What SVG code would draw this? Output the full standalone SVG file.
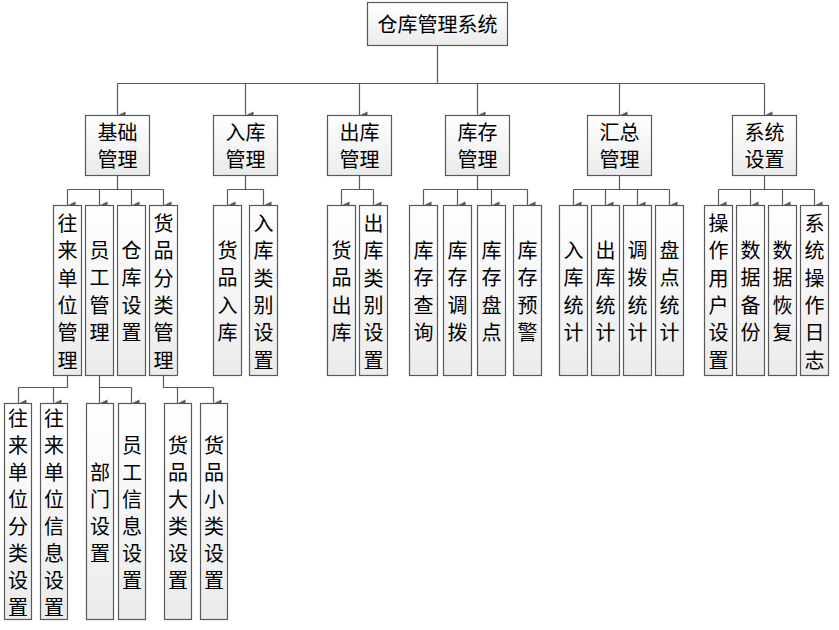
<svg xmlns="http://www.w3.org/2000/svg" width="839" height="630" viewBox="0 0 839 630">
<defs>
<linearGradient id="g" x1="0" y1="0" x2="0" y2="1">
<stop offset="0" stop-color="#ffffff"/>
<stop offset="1" stop-color="#ebebeb"/>
</linearGradient>
<marker id="arr" markerUnits="userSpaceOnUse" markerWidth="10" markerHeight="10" viewBox="0 0 10 10" refX="5" refY="9" orient="auto-start-reverse">
<path d="M1,1 L9,1 L5,9 Z" fill="#595959"/>
</marker>
<style>
rect{fill:url(#g);stroke:#595959;stroke-width:1.2}
text{font-family:"Noto Sans CJK SC","Microsoft YaHei",sans-serif;font-size:20px;fill:#000;text-anchor:middle;dominant-baseline:central}
#connectors path{fill:none;stroke:#595959;stroke-width:1.2}
.a{marker-end:url(#arr)}
</style>
</defs>
<rect x="0" y="0" width="839" height="630" style="fill:#fff;stroke:none"/>
<g id="connectors">
<path d="M437.5,45.5V83.5M117.5,83.5H764.5"/>
<path class="a" d="M117.5,83.5V115.5"/>
<path class="a" d="M245.5,83.5V115.5"/>
<path class="a" d="M359.5,83.5V115.5"/>
<path class="a" d="M477.5,83.5V115.5"/>
<path class="a" d="M619.5,83.5V115.5"/>
<path class="a" d="M764.5,83.5V115.5"/>
<path d="M117.5,175.5V189.5M67.5,189.5H163.5"/>
<path class="a" d="M67.5,189.5V205.5"/><path class="a" d="M99.5,189.5V205.5"/><path class="a" d="M131.5,189.5V205.5"/><path class="a" d="M163.5,189.5V205.5"/>
<path d="M245.5,175.5V189.5M227.5,189.5H263.5"/>
<path class="a" d="M227.5,189.5V205.5"/><path class="a" d="M263.5,189.5V205.5"/>
<path d="M359.5,175.5V189.5M341.5,189.5H373.5"/>
<path class="a" d="M341.5,189.5V205.5"/><path class="a" d="M373.5,189.5V205.5"/>
<path d="M477.5,175.5V189.5M423.5,189.5H527.5"/>
<path class="a" d="M423.5,189.5V205.5"/><path class="a" d="M457.5,189.5V205.5"/><path class="a" d="M491.5,189.5V205.5"/><path class="a" d="M527.5,189.5V205.5"/>
<path d="M619.5,175.5V189.5M573.5,189.5H669.5"/>
<path class="a" d="M573.5,189.5V205.5"/><path class="a" d="M605.5,189.5V205.5"/><path class="a" d="M637.5,189.5V205.5"/><path class="a" d="M669.5,189.5V205.5"/>
<path d="M764.5,175.5V189.5M718.5,189.5H814.5"/>
<path class="a" d="M718.5,189.5V205.5"/><path class="a" d="M750.5,189.5V205.5"/><path class="a" d="M782.5,189.5V205.5"/><path class="a" d="M814.5,189.5V205.5"/>
<path d="M67.5,375.5V387.5H18.5"/>
<path class="a" d="M18.5,387.5V403.5"/><path class="a" d="M53.5,387.5V403.5"/>
<path d="M99.5,375.5V387.5H131.5"/>
<path class="a" d="M99.5,387.5V403.5"/><path class="a" d="M131.5,387.5V403.5"/>
<path d="M163.5,375.5V387.5H213.5"/>
<path class="a" d="M177.5,387.5V403.5"/><path class="a" d="M213.5,387.5V403.5"/>
</g>
<g id="root"><rect x="367.5" y="2.5" width="140" height="43"/><text x="437.5" y="23">仓库管理系统</text></g>
<g id="n-jichu"><rect x="85.5" y="115.5" width="64" height="60"/><text x="117.5" y="131">基础</text><text x="117.5" y="158">管理</text></g>
<g id="n-ruku"><rect x="213.5" y="115.5" width="64" height="60"/><text x="245.5" y="131">入库</text><text x="245.5" y="158">管理</text></g>
<g id="n-chuku"><rect x="327.5" y="115.5" width="64" height="60"/><text x="359.5" y="131">出库</text><text x="359.5" y="158">管理</text></g>
<g id="n-kucun"><rect x="445.5" y="115.5" width="64" height="60"/><text x="477.5" y="131">库存</text><text x="477.5" y="158">管理</text></g>
<g id="n-huizong"><rect x="587.5" y="115.5" width="64" height="60"/><text x="619.5" y="131">汇总</text><text x="619.5" y="158">管理</text></g>
<g id="n-xitong"><rect x="732.5" y="115.5" width="64" height="60"/><text x="764.5" y="131">系统</text><text x="764.5" y="158">设置</text></g>

<g id="n-wanglai"><rect x="53.5" y="205.5" width="28" height="170"/><text><tspan x="67.5" y="222">往</tspan><tspan x="67.5" y="249.3">来</tspan><tspan x="67.5" y="276.6">单</tspan><tspan x="67.5" y="303.9">位</tspan><tspan x="67.5" y="331.2">管</tspan><tspan x="67.5" y="358.5">理</tspan></text></g>
<g id="n-yuangong"><rect x="85.5" y="205.5" width="28" height="170"/><text><tspan x="99.5" y="249">员</tspan><tspan x="99.5" y="276.3">工</tspan><tspan x="99.5" y="303.6">管</tspan><tspan x="99.5" y="330.9">理</tspan></text></g>
<g id="n-cangku"><rect x="117.5" y="205.5" width="28" height="170"/><text><tspan x="131.5" y="249">仓</tspan><tspan x="131.5" y="276.3">库</tspan><tspan x="131.5" y="303.6">设</tspan><tspan x="131.5" y="330.9">置</tspan></text></g>
<g id="n-huopinfenlei"><rect x="149.5" y="205.5" width="28" height="170"/><text><tspan x="163.5" y="222">货</tspan><tspan x="163.5" y="249.3">品</tspan><tspan x="163.5" y="276.6">分</tspan><tspan x="163.5" y="303.9">类</tspan><tspan x="163.5" y="331.2">管</tspan><tspan x="163.5" y="358.5">理</tspan></text></g>
<g id="n-huopinruku"><rect x="213.5" y="205.5" width="28" height="170"/><text><tspan x="227.5" y="249">货</tspan><tspan x="227.5" y="276.3">品</tspan><tspan x="227.5" y="303.6">入</tspan><tspan x="227.5" y="330.9">库</tspan></text></g>
<g id="n-rukuleibie"><rect x="249.5" y="205.5" width="28" height="170"/><text><tspan x="263.5" y="222">入</tspan><tspan x="263.5" y="249.3">库</tspan><tspan x="263.5" y="276.6">类</tspan><tspan x="263.5" y="303.9">别</tspan><tspan x="263.5" y="331.2">设</tspan><tspan x="263.5" y="358.5">置</tspan></text></g>
<g id="n-huopinchuku"><rect x="327.5" y="205.5" width="28" height="170"/><text><tspan x="341.5" y="249">货</tspan><tspan x="341.5" y="276.3">品</tspan><tspan x="341.5" y="303.6">出</tspan><tspan x="341.5" y="330.9">库</tspan></text></g>
<g id="n-chukuleibie"><rect x="359.5" y="205.5" width="28" height="170"/><text><tspan x="373.5" y="222">出</tspan><tspan x="373.5" y="249.3">库</tspan><tspan x="373.5" y="276.6">类</tspan><tspan x="373.5" y="303.9">别</tspan><tspan x="373.5" y="331.2">设</tspan><tspan x="373.5" y="358.5">置</tspan></text></g>
<g id="n-kucunchaxun"><rect x="409.5" y="205.5" width="28" height="170"/><text><tspan x="423.5" y="249">库</tspan><tspan x="423.5" y="276.3">存</tspan><tspan x="423.5" y="303.6">查</tspan><tspan x="423.5" y="330.9">询</tspan></text></g>
<g id="n-kucundiaobo"><rect x="443.5" y="205.5" width="28" height="170"/><text><tspan x="457.5" y="249">库</tspan><tspan x="457.5" y="276.3">存</tspan><tspan x="457.5" y="303.6">调</tspan><tspan x="457.5" y="330.9">拨</tspan></text></g>
<g id="n-kucunpandian"><rect x="477.5" y="205.5" width="28" height="170"/><text><tspan x="491.5" y="249">库</tspan><tspan x="491.5" y="276.3">存</tspan><tspan x="491.5" y="303.6">盘</tspan><tspan x="491.5" y="330.9">点</tspan></text></g>
<g id="n-kucunyujing"><rect x="513.5" y="205.5" width="28" height="170"/><text><tspan x="527.5" y="249">库</tspan><tspan x="527.5" y="276.3">存</tspan><tspan x="527.5" y="303.6">预</tspan><tspan x="527.5" y="330.9">警</tspan></text></g>
<g id="n-rukutongji"><rect x="559.5" y="205.5" width="28" height="170"/><text><tspan x="573.5" y="249">入</tspan><tspan x="573.5" y="276.3">库</tspan><tspan x="573.5" y="303.6">统</tspan><tspan x="573.5" y="330.9">计</tspan></text></g>
<g id="n-chukutongji"><rect x="591.5" y="205.5" width="28" height="170"/><text><tspan x="605.5" y="249">出</tspan><tspan x="605.5" y="276.3">库</tspan><tspan x="605.5" y="303.6">统</tspan><tspan x="605.5" y="330.9">计</tspan></text></g>
<g id="n-diaobotongji"><rect x="623.5" y="205.5" width="28" height="170"/><text><tspan x="637.5" y="249">调</tspan><tspan x="637.5" y="276.3">拨</tspan><tspan x="637.5" y="303.6">统</tspan><tspan x="637.5" y="330.9">计</tspan></text></g>
<g id="n-pandiantongji"><rect x="655.5" y="205.5" width="28" height="170"/><text><tspan x="669.5" y="249">盘</tspan><tspan x="669.5" y="276.3">点</tspan><tspan x="669.5" y="303.6">统</tspan><tspan x="669.5" y="330.9">计</tspan></text></g>
<g id="n-caozuoyonghu"><rect x="704.5" y="205.5" width="28" height="170"/><text><tspan x="718.5" y="222">操</tspan><tspan x="718.5" y="249.3">作</tspan><tspan x="718.5" y="276.6">用</tspan><tspan x="718.5" y="303.9">户</tspan><tspan x="718.5" y="331.2">设</tspan><tspan x="718.5" y="358.5">置</tspan></text></g>
<g id="n-shujubeifen"><rect x="736.5" y="205.5" width="28" height="170"/><text><tspan x="750.5" y="249">数</tspan><tspan x="750.5" y="276.3">据</tspan><tspan x="750.5" y="303.6">备</tspan><tspan x="750.5" y="330.9">份</tspan></text></g>
<g id="n-shujuhuifu"><rect x="768.5" y="205.5" width="28" height="170"/><text><tspan x="782.5" y="249">数</tspan><tspan x="782.5" y="276.3">据</tspan><tspan x="782.5" y="303.6">恢</tspan><tspan x="782.5" y="330.9">复</tspan></text></g>
<g id="n-xitongrizhi"><rect x="800.5" y="205.5" width="28" height="170"/><text><tspan x="814.5" y="222">系</tspan><tspan x="814.5" y="249.3">统</tspan><tspan x="814.5" y="276.6">操</tspan><tspan x="814.5" y="303.9">作</tspan><tspan x="814.5" y="331.2">日</tspan><tspan x="814.5" y="358.5">志</tspan></text></g>

<g id="n-wanglaifenlei"><rect x="4.5" y="403.5" width="27" height="216"/><text><tspan x="18" y="417">往</tspan><tspan x="18" y="444">来</tspan><tspan x="18" y="471">单</tspan><tspan x="18" y="498">位</tspan><tspan x="18" y="525">分</tspan><tspan x="18" y="552">类</tspan><tspan x="18" y="579">设</tspan><tspan x="18" y="606">置</tspan></text></g>
<g id="n-wanglaixinxi"><rect x="40.5" y="403.5" width="27" height="216"/><text><tspan x="54" y="417">往</tspan><tspan x="54" y="444">来</tspan><tspan x="54" y="471">单</tspan><tspan x="54" y="498">位</tspan><tspan x="54" y="525">信</tspan><tspan x="54" y="552">息</tspan><tspan x="54" y="579">设</tspan><tspan x="54" y="606">置</tspan></text></g>
<g id="n-bumen"><rect x="86.5" y="403.5" width="27" height="216"/><text><tspan x="100" y="471">部</tspan><tspan x="100" y="498">门</tspan><tspan x="100" y="525">设</tspan><tspan x="100" y="552">置</tspan></text></g>
<g id="n-yuangongxinxi"><rect x="118.5" y="403.5" width="27" height="216"/><text><tspan x="132" y="444">员</tspan><tspan x="132" y="471">工</tspan><tspan x="132" y="498">信</tspan><tspan x="132" y="525">息</tspan><tspan x="132" y="552">设</tspan><tspan x="132" y="579">置</tspan></text></g>
<g id="n-dalei"><rect x="164.5" y="403.5" width="27" height="216"/><text><tspan x="178" y="444">货</tspan><tspan x="178" y="471">品</tspan><tspan x="178" y="498">大</tspan><tspan x="178" y="525">类</tspan><tspan x="178" y="552">设</tspan><tspan x="178" y="579">置</tspan></text></g>
<g id="n-xiaolei"><rect x="200.5" y="403.5" width="27" height="216"/><text><tspan x="214" y="444">货</tspan><tspan x="214" y="471">品</tspan><tspan x="214" y="498">小</tspan><tspan x="214" y="525">类</tspan><tspan x="214" y="552">设</tspan><tspan x="214" y="579">置</tspan></text></g>
</svg>
